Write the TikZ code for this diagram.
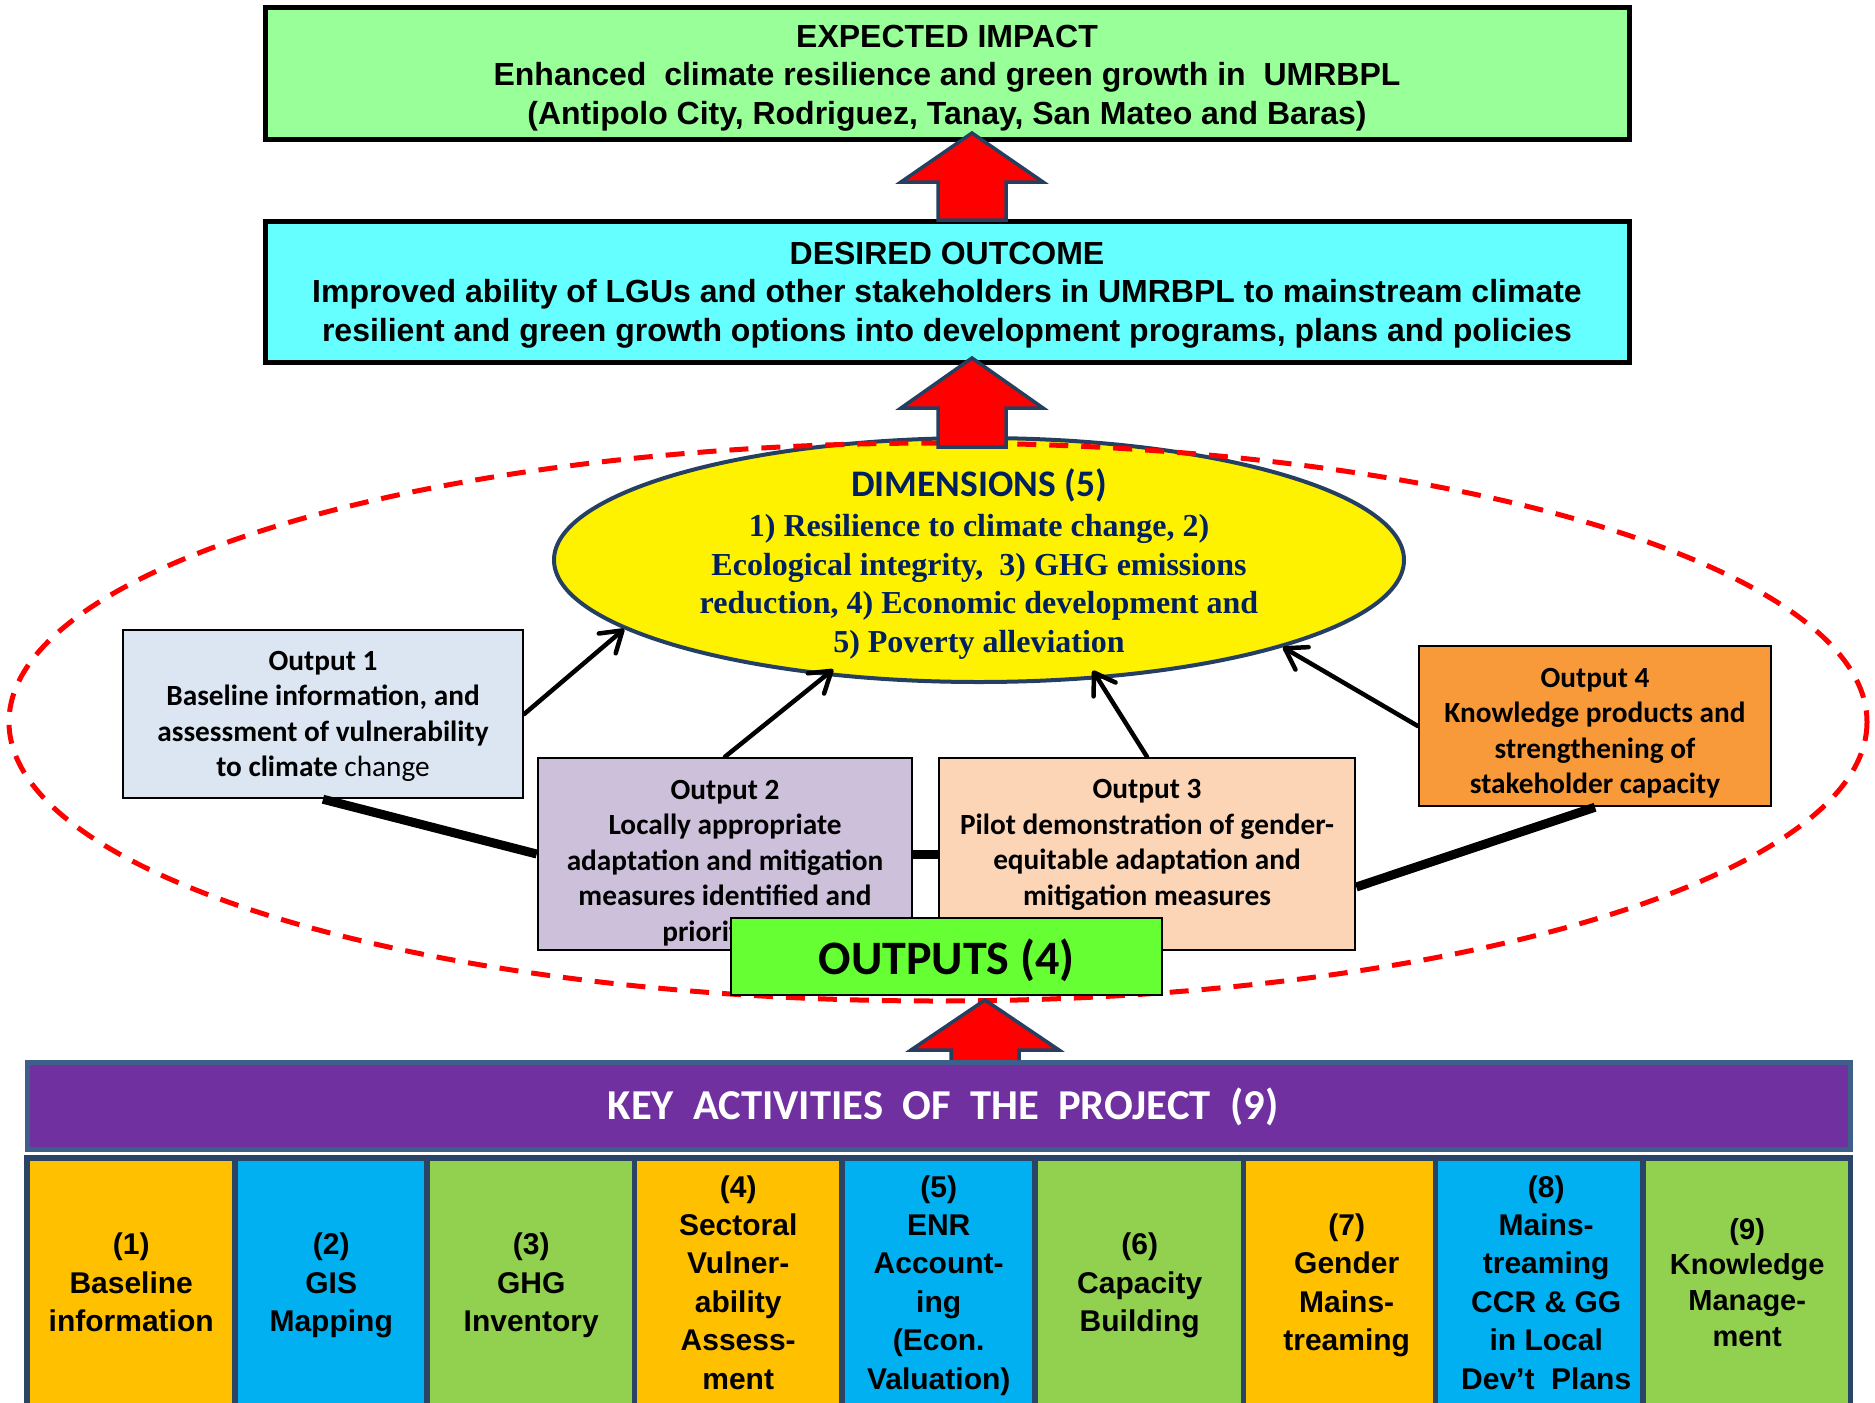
\documentclass[tikz,border=0pt]{standalone}
\usepackage{fontspec}
\setmainfont{Liberation Sans}
\newfontfamily\carlito{Carlito}
\newfontfamily\tnr{Liberation Serif}
\usetikzlibrary{shapes.geometric,arrows.meta,calc}
\definecolor{impactgreen}{HTML}{99FF99}
\definecolor{outcomecyan}{HTML}{66FFFF}
\definecolor{arrownavy}{HTML}{243F60}
\definecolor{dimnavy}{HTML}{002060}
\definecolor{ellline}{HTML}{253F62}
\definecolor{oneblue}{HTML}{DCE6F2}
\definecolor{twolav}{HTML}{CCC0DA}
\definecolor{threepeach}{HTML}{FBD5B5}
\definecolor{fourorange}{HTML}{F8993A}
\definecolor{outgreen}{HTML}{66FF33}
\definecolor{hdrpurple}{HTML}{7030A0}
\definecolor{hdrborder}{HTML}{3E5F8A}
\definecolor{rownavy}{HTML}{2A4466}
\definecolor{cellorange}{HTML}{FFC000}
\definecolor{cellblue}{HTML}{00B0F0}
\definecolor{cellgreen}{HTML}{92D050}
\begin{document}
\begin{tikzpicture}[x=1pt,y=-1pt,
  bigbox/.style={draw=black, line width=5pt, minimum width=1364pt, inner sep=0pt},
  bigtext/.style={align=center, font=\bfseries\fontsize{32}{38.5}\selectfont, inner sep=0pt},
  blockarrow/.style={fill=red, draw=arrownavy, line width=3.5pt, line join=miter},
  outbox/.style={draw=black, line width=2.5pt, inner sep=0pt},
  outtext/.style={align=center, font=\carlito\bfseries\fontsize{29.3}{35.5}\selectfont, inner sep=0pt},
  thinarrow/.style={line width=4.5pt, line cap=round, -{Straight Barb[length=20pt,width=26pt,line cap=round,line join=round]}},
  thickline/.style={line width=9pt},
  cellbox/.style={anchor=north west, inner sep=0pt, minimum height=242pt, align=center,
    text depth=-4pt, font=\bfseries\fontsize{30}{38.4}\selectfont},
  celltext/.style={inner sep=0pt, align=center, text depth=-4pt, font=\bfseries\fontsize{30}{38.4}\selectfont},
]
\useasboundingbox (0,0) rectangle (1875,1403);

% top boxes
\node[bigbox, fill=impactgreen, minimum height=132pt] (impact) at (947,73) {};
\node[bigtext] (impactt) at (947,78)
  {EXPECTED IMPACT\\Enhanced~ climate resilience and green growth in~ UMRBPL\\(Antipolo City, Rodriguez, Tanay, San Mateo and Baras)};
\node[bigbox, fill=outcomecyan, minimum height=141pt] (outcome) at (947,291.5) {};
\node[bigtext] (outcomet) at (947,295)
  {DESIRED OUTCOME\\Improved ability of LGUs and other stakeholders in UMRBPL to mainstream climate\\resilient and green growth options into development programs, plans and policies};

\path[blockarrow] (972,133) -- (1043,182) -- (1006,182) -- (1006,220) -- (938,220) -- (938,182) -- (901,182) -- cycle;

% dimensions ellipse
\node[ellipse, draw=ellline, line width=4pt, fill=yellow, minimum width=850pt, minimum height=244pt, inner sep=0pt] (dim) at (979,560) {};
\node[font=\carlito\bfseries\fontsize{37.5}{40}\selectfont, text=dimnavy, inner sep=0pt] (dimtitle) at (979,485.5) {DIMENSIONS (5)};
\node[font=\tnr\bfseries\fontsize{32}{38.5}\selectfont, text=dimnavy, align=center, inner sep=0pt] (dimtext) at (979,587)
  {1) Resilience to climate change, 2)\\Ecological integrity,~ 3) GHG emissions\\reduction, 4) Economic development and\\5) Poverty alleviation};

% dashed group ellipse
\draw[red, line width=5pt, dash pattern=on 19pt off 13pt] (938,722) ellipse [x radius=929, y radius=279];

\path[blockarrow] (972,358) -- (1043,408) -- (1006,408) -- (1006,447) -- (938,447) -- (938,408) -- (901,408) -- cycle;

% outputs
\node[outbox, fill=oneblue, minimum width=400pt, minimum height=168pt] (out1) at (323,714) {};
\node[outtext] (out1t) at (323,716.5) {Output 1\\Baseline information, and\\assessment of vulnerability\\to climate {\mdseries change}};
\node[outbox, fill=twolav, minimum width=374pt, minimum height=192pt] (out2) at (725,854) {};
\node[outtext] (out2t) at (725,863) {Output 2\\Locally appropriate\\adaptation and mitigation\\measures identified and\\prioritized};
\node[outbox, fill=threepeach, minimum width=416pt, minimum height=192pt] (out3) at (1147,854) {};
\node[outtext] (out3t) at (1147,845) {Output 3\\Pilot demonstration of gender-\\equitable adaptation and\\mitigation measures};
\node[outbox, fill=fourorange, minimum width=352pt, minimum height=160pt] (out4) at (1595,726) {};
\node[outtext] (out4t) at (1595,733) {Output 4\\Knowledge products and\\strengthening of\\stakeholder capacity};

% connectors
\draw[thinarrow] (out1.east) -- (dim.191);
\draw[thinarrow, shorten >=-10pt] (out2.north) -- (dim.217);
\draw[thinarrow, shorten >=-10pt] (out3.north) -- (dim.315);
\draw[thinarrow] (out4.west) -- (dim.344);
\draw[thickline] (out1.south) -- (out2.west);
\draw[thickline] (out2.east) -- (out3.west);
\draw[thickline] ([yshift=-33pt]out3.east) -- (out4.south);

\node[draw=black, line width=2.5pt, fill=outgreen, minimum width=431pt, minimum height=77pt, inner sep=0pt] (outputs) at (946.5,956.5) {};
\node[font=\carlito\bfseries\fontsize{48}{52}\selectfont, inner sep=0pt] (outputst) at (946.5,960) {OUTPUTS (4)};

\path[blockarrow] (985,1000) -- (1059,1050) -- (1019,1050) -- (1019,1062) -- (951,1062) -- (951,1050) -- (911,1050) -- cycle;

% key activities
\node[draw=hdrborder, line width=5pt, fill=hdrpurple, minimum width=1823pt, minimum height=87pt, inner sep=0pt] (hdr) at (939,1106) {};
\node[font=\carlito\bfseries\fontsize{42.6}{46}\selectfont, text=white, inner sep=0pt] (hdrt) at (943,1107)
  {KEY~ ACTIVITIES~ OF~ THE~ PROJECT~ (9)};
\fill[rownavy] (24,1155) rectangle (1853,1403);

\node[cellbox, fill=cellorange, minimum width=202pt] (c1) at (30,1161) {(1)\\Baseline\\information};
\node[cellbox, fill=cellblue, minimum width=186pt] (c2) at (238,1161) {(2)\\GIS\\Mapping};
\node[cellbox, fill=cellgreen, minimum width=202pt] (c3) at (430,1161) {(3)\\GHG\\Inventory};
\node[cellbox, fill=cellorange, minimum width=202pt] (c4) at (637,1161) {(4)\\Sectoral\\Vulner-\\ability\\Assess-\\ment};
\node[cellbox, fill=cellblue, minimum width=187pt] (c5) at (845,1161) {(5)\\ENR\\Account-\\ing\\(Econ.\\Valuation)};
\node[cellbox, fill=cellgreen, minimum width=203pt] (c6) at (1038,1161) {(6)\\Capacity\\Building};
\node[cellbox, fill=cellorange, minimum width=187pt] (c7) at (1246,1161) {};
\node[celltext] (c7t) at ([xshift=7pt]c7.center) {(7)\\Gender\\Mains-\\treaming};
\node[cellbox, fill=cellblue, minimum width=202pt] (c8) at (1438,1161) {};
\node[celltext] (c8t) at ([xshift=7pt]c8.center) {(8)\\Mains-\\treaming\\CCR \& GG\\in Local\\Dev’t~ Plans};
\node[cellbox, fill=cellgreen, minimum width=202pt, font=\bfseries\fontsize{29}{35.6}\selectfont] (c9) at (1646,1161) {(9)\\Knowledge\\Manage-\\ment};
\end{tikzpicture}
\end{document}
